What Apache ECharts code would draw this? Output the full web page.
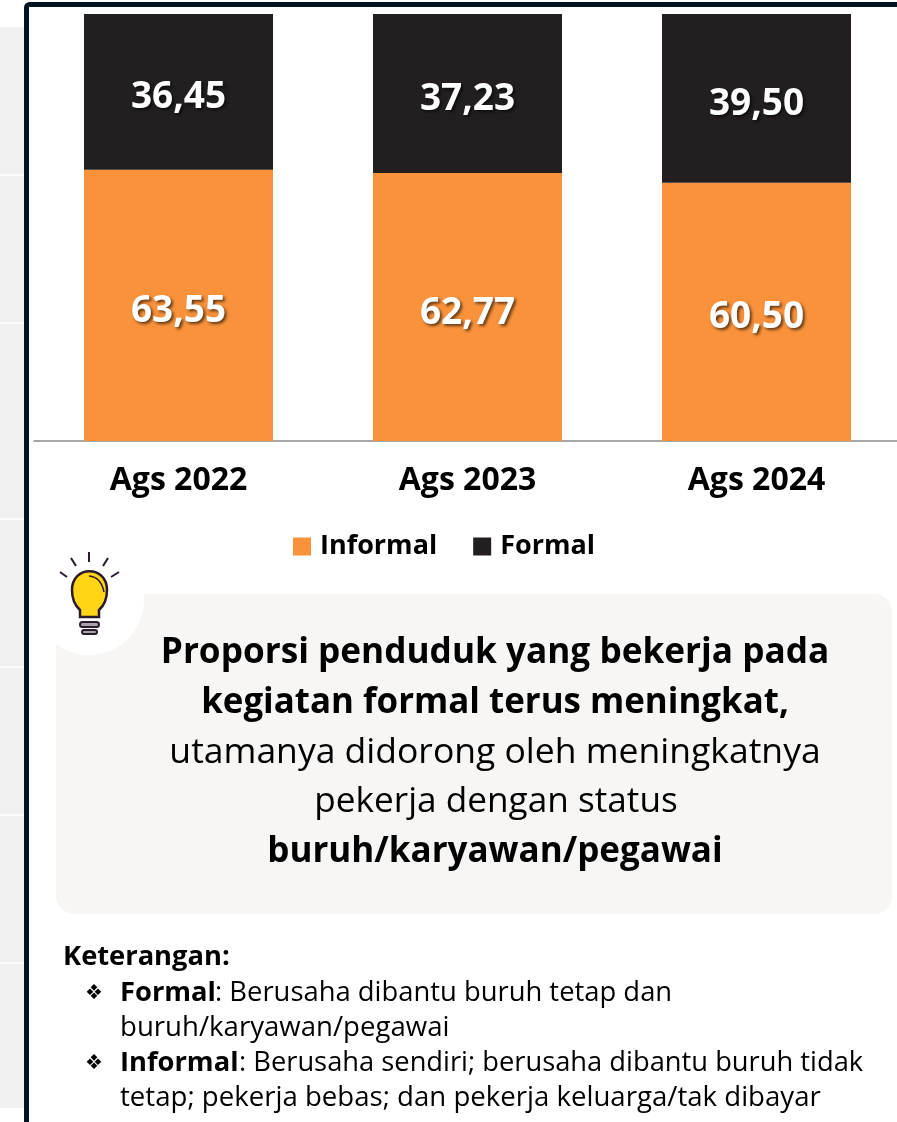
<!DOCTYPE html>
<html><head><meta charset="utf-8">
<style>html,body{margin:0;padding:0;background:#fff;overflow:hidden;width:897px;height:1122px}#c{width:912px;height:1122px}</style>
<script src="https://cdn.jsdelivr.net/npm/echarts@6/dist/echarts.min.js"></script>
</head><body><div id="c"></div>
<script>
const categories = ['Ags 2022','Ags 2023','Ags 2024'];
const informal = [63.55,62.77,60.50];
const formal = [36.45,37.23,39.50];
const F = '"Open Sans","Noto Sans",sans-serif';
echarts.graphic.registerShape('bulbBody',echarts.graphic.extendPath('M80 617 L80 610 Q72 603 72 590 C72 565 107 565 107 590 Q107 603 99 610 L99 617 Z',{}));
echarts.graphic.registerShape('bulbGlint',echarts.graphic.extendPath('M89 576 Q101 577 104 592',{}));
const chart = echarts.init(document.getElementById('c'),null,{renderer:'canvas'});
const fmt = p => p.value.toFixed(2).replace('.',',');
const lab = {show:true,position:'inside',offset:[0,6],formatter:fmt,color:'#fff',fontFamily:F,fontWeight:700,fontSize:37,
  textShadowColor:'rgba(0,0,0,0.6)',textShadowBlur:3,textShadowOffsetX:2,textShadowOffsetY:2};
function t(x,y,s,size,w,anchor){
  return {type:'text',x:x,y:y,z:10,style:{text:s,fontFamily:F,fontSize:size,fontWeight:w||400,fill:'#000',
    textAlign:anchor||'left',textVerticalAlign:'middle'}};
}
const stripes=[174,322,518,666,814,962];
const g=[
 {type:'rect',z:0,shape:{x:0,y:27,width:24,height:1081},style:{fill:'#f0f0f0'}},
 ...stripes.map(y=>({type:'rect',z:1,shape:{x:0,y:y,width:24,height:2},style:{fill:'#fbfbfb'}})),
 {type:'rect',z:1,shape:{x:26.5,y:4.5,width:900,height:1140,r:3},style:{fill:'#fff',stroke:'#04141e',lineWidth:5}},
 {type:'rect',z:2,shape:{x:56,y:594,width:836,height:320,r:18},style:{fill:'#f7f6f4'}},
 {type:'circle',z:3,shape:{cx:89,cy:600,r:55},style:{fill:'#fff'}},
 {type:'line',z:5,shape:{x1:89,y1:552,x2:89,y2:562},style:{stroke:'#2a1a2e',lineWidth:2}},
 {type:'line',z:5,shape:{x1:71,y1:558,x2:76,y2:566},style:{stroke:'#2a1a2e',lineWidth:2}},
 {type:'line',z:5,shape:{x1:108,y1:558,x2:103,y2:566},style:{stroke:'#2a1a2e',lineWidth:2}},
 {type:'line',z:5,shape:{x1:60,y1:572,x2:67,y2:577},style:{stroke:'#2a1a2e',lineWidth:2}},
 {type:'line',z:5,shape:{x1:119,y1:572,x2:111,y2:577},style:{stroke:'#2a1a2e',lineWidth:2}},
 {type:'bulbBody',z:5,style:{fill:'#ffd516',stroke:'#2a1a2e',lineWidth:2.5}},
 {type:'bulbGlint',z:6,style:{fill:'none',stroke:'#2a1a2e',lineWidth:1.5}},
 {type:'rect',z:5,shape:{x:80,y:622,width:19,height:5,r:2.5},style:{fill:'#a8a3a8',stroke:'#2a1a2e',lineWidth:2}},
 {type:'rect',z:5,shape:{x:82,y:630,width:15,height:4,r:2},style:{fill:'#a8a3a8',stroke:'#2a1a2e',lineWidth:2}},
 t(495,653,'Proporsi penduduk yang bekerja pada',35.2,700,'center'),
 t(495,703,'kegiatan formal terus meningkat,',34.9,700,'center'),
 t(495,753,'utamanya didorong oleh meningkatnya',35.5,400,'center'),
 t(496,802,'pekerja dengan status',35.2,400,'center'),
 t(495,852,'buruh/karyawan/pegawai',35,700,'center'),
 t(63,957,'Keterangan:',27.3,700),
 t(85,993,'\u2756',20,400),
 t(120,993,'Formal',27.3,700),
 t(215,993,': Berusaha dibantu buruh tetap dan',27.4,400),
 t(120,1028,'buruh/karyawan/pegawai',27.6,400),
 t(85,1063,'\u2756',20,400),
 t(120,1063,'Informal',27.3,700),
 t(239,1063,': Berusaha sendiri; berusaha dibantu buruh tidak',27.3,400),
 t(120,1098,'tetap; pekerja bebas; dan pekerja keluarga/tak dibayar',27.6,400)
];
chart.setOption({
 animation:false,
 backgroundColor:'#fff',
 graphic:{elements:g},
 legend:{data:['Informal','Formal'],top:533,left:293,padding:0,itemWidth:18,itemHeight:18,itemGap:36,icon:'rect',
   textStyle:{fontFamily:F,fontWeight:700,fontSize:27,color:'#000',padding:[0,0,0,4]}},
 grid:{left:34,width:867,top:14,height:427,containLabel:false},
 xAxis:{type:'category',data:categories,z:4,axisTick:{show:false},
   axisLine:{lineStyle:{color:'#8c8c8c',width:1.5}},
   axisLabel:{fontFamily:F,fontWeight:700,fontSize:32,color:'#000',margin:24}},
 yAxis:{type:'value',min:0,max:100,show:false,splitLine:{show:false}},
 series:[
  {name:'Informal',type:'bar',stack:'a',barWidth:189,data:informal,z:4,itemStyle:{color:'#f9923a'},label:lab},
  {name:'Formal',type:'bar',stack:'a',barWidth:189,data:formal,z:4,itemStyle:{color:'#231f20'},label:lab}
 ]
});
</script></body></html>
